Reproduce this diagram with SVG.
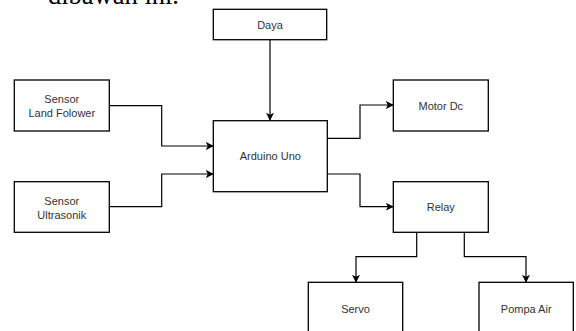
<svg xmlns="http://www.w3.org/2000/svg" width="576" height="331" viewBox="0 0 576 331">
<style>
.box{fill:#fff;stroke:#000;stroke-width:1.3}
.t{font-family:"Liberation Sans",Arial,sans-serif;font-size:11px;fill:#333;text-anchor:middle}
.c{fill:none;stroke:#000;stroke-width:1.2}
.hdr{font-family:"Liberation Serif","Times New Roman",serif;font-size:26.5px;fill:#000}
</style>
<defs>
<marker id="arr" viewBox="0 0 10 10" refX="9" refY="5" markerWidth="8" markerHeight="8" markerUnits="userSpaceOnUse" orient="auto">
<path d="M0,0 L10,5 L0,10 L2.5,5 z" fill="#000"/>
</marker>
</defs>
<rect width="576" height="331" fill="#fff"/>
<text class="hdr" x="48" y="4">dibawah ini.</text>
<g id="connectors">
<path class="c" d="M270,40 V120" marker-end="url(#arr)"/>
<path class="c" d="M109,105.7 H161.7 V146 H213" marker-end="url(#arr)"/>
<path class="c" d="M109,206.7 H161.7 V174 H213" marker-end="url(#arr)"/>
<path class="c" d="M327,138.3 H360 V105 H393" marker-end="url(#arr)"/>
<path class="c" d="M327,174 H360 V206.7 H393" marker-end="url(#arr)"/>
<path class="c" d="M416.7,232.3 V256.7 H356 V282" marker-end="url(#arr)"/>
<path class="c" d="M464.3,232.3 V256.7 H526 V282" marker-end="url(#arr)"/>
</g>
<g id="daya"><rect class="box" x="213.3" y="9.3" width="113.4" height="30.4"/><text class="t" x="270" y="28.5">Daya</text></g>
<g id="sensor-land"><rect class="box" x="14.3" y="80" width="95" height="51"/><text class="t" x="61.8" y="103">Sensor</text><text class="t" x="61.8" y="117">Land Folower</text></g>
<g id="sensor-ultrasonik"><rect class="box" x="14.3" y="181.7" width="95" height="50.6"/><text class="t" x="61.8" y="204.5">Sensor</text><text class="t" x="61.8" y="218.5">Ultrasonik</text></g>
<g id="arduino"><rect class="box" x="213.3" y="120.7" width="114" height="71"/><text class="t" x="270.3" y="160">Arduino Uno</text></g>
<g id="motor"><rect class="box" x="393.3" y="80" width="95" height="51"/><text class="t" x="440.8" y="110">Motor Dc</text></g>
<g id="relay"><rect class="box" x="393.3" y="181.7" width="95" height="50.6"/><text class="t" x="440.8" y="211">Relay</text></g>
<g id="servo"><rect class="box" x="308.3" y="282.3" width="94.4" height="51"/><text class="t" x="355.5" y="313">Servo</text></g>
<g id="pompa"><rect class="box" x="479" y="282.3" width="94.3" height="51"/><text class="t" x="526.2" y="313">Pompa Air</text></g>
</svg>
